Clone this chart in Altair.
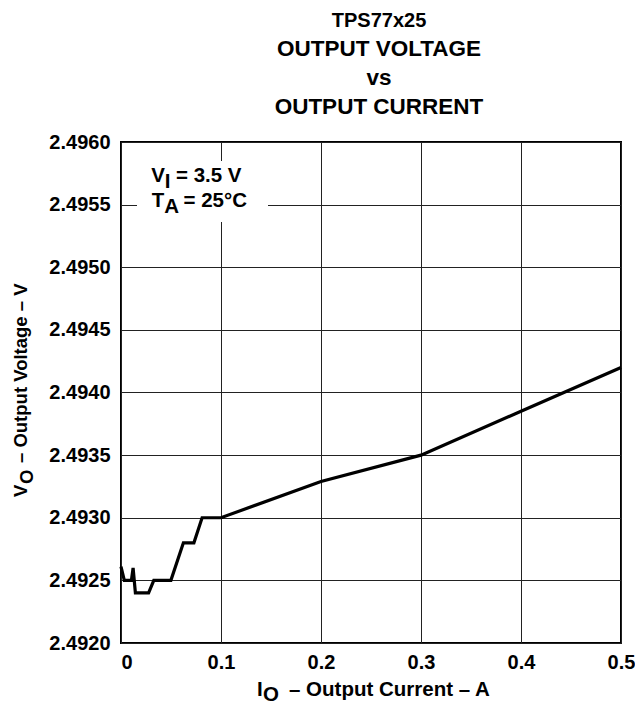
import altair as alt
import pandas as pd

# ---- data ----
current = [0.0, 0.0033, 0.0104, 0.0121, 0.0144, 0.0276, 0.0328, 0.0499,
           0.0624, 0.0729, 0.0811, 0.1, 0.2, 0.3, 0.4, 0.5]
voltage = [2.49261, 2.4925, 2.4925, 2.4926, 2.4924, 2.4924, 2.4925, 2.4925,
           2.4928, 2.4928, 2.4930, 2.4930, 2.49329, 2.4935, 2.49385, 2.4942]
x_ticks = [0, 0.1, 0.2, 0.3, 0.4, 0.5]
y_ticks = [2.4920, 2.4925, 2.4930, 2.4935, 2.4940, 2.4945, 2.4950, 2.4955, 2.4960]
title_lines = ["TPS77x25", "OUTPUT VOLTAGE", "vs", "OUTPUT CURRENT"]
cond_text = [("V", "I", "= 3.5 V"), ("T", "A", "= 25°C")]
x_title = ("I", "O", "– Output Current – A")
y_title = ("V", "O", "– Output Voltage – V")

FONT = "Liberation Sans"

df = pd.DataFrame({"I": current, "V": voltage, "order": list(range(len(current)))})

x_enc = alt.X("I:Q",
              scale=alt.Scale(domain=[0, 0.5], nice=False, zero=False),
              axis=alt.Axis(values=x_ticks, title=None, grid=True,
                            labelExpr="datum.value === 0 ? '0' : format(datum.value, '.1f')",
                            labelAlign={"condition": {"test": "datum.value === 0", "value": "left"},
                                        "value": "center"},
                            labelPadding=9))
y_enc = alt.Y("V:Q",
              scale=alt.Scale(domain=[2.492, 2.496], nice=False, zero=False),
              axis=alt.Axis(values=y_ticks, title=None, grid=True, format=".4f",
                            labelPadding=11))

line = alt.Chart(df).mark_line(color="black", strokeWidth=3.2).encode(
    x=x_enc, y=y_enc, order="order:Q")


def label(text, x, y, size, angle=0, align="left"):
    return alt.Chart(pd.DataFrame({"t": [text]})).mark_text(
        font=FONT, fontWeight="bold", fontSize=size, align=align,
        baseline="alphabetic", angle=angle, color="black"
    ).encode(text="t:N", x=alt.value(x), y=alt.value(y))


box = alt.Chart(pd.DataFrame({"b": [1]})).mark_rect(color="white").encode(
    x=alt.value(16), x2=alt.value(147), y=alt.value(19), y2=alt.value(80))

layers = [line, box]

# condition box text
layers += [
    label(cond_text[0][0], 30.2, 39.7, 20.5),
    label(cond_text[0][1], 43.8, 45.7, 20.5),
    label(cond_text[0][2], 55.0, 39.7, 20.5),
    label(cond_text[1][0], 30.8, 64.7, 20.5),
    label(cond_text[1][1], 43.3, 70.7, 20.5),
    label(cond_text[1][2], 62.5, 64.7, 20.5),
]

# chart title
layers += [
    label(title_lines[0], 258, -115.5, 20, align="center"),
    label(title_lines[1], 258, -86, 22.5, align="center"),
    label(title_lines[2], 258, -57, 22.5, align="center"),
    label(title_lines[3], 258, -28.5, 22.5, align="center"),
]

# x axis title
layers += [
    label(x_title[0], 136, 554, 20.5),
    label(x_title[1], 142, 559, 20.5),
    label(x_title[2], 168, 554, 20.5),
]

# y axis title (rotated)
layers += [
    label(y_title[0], -94, 355, 18.5, angle=270),
    label(y_title[1], -88, 342, 18.5, angle=270),
    label(y_title[2], -94, 321, 18.5, angle=270),
]

chart = alt.layer(*layers).properties(
    width=500, height=501,
    autosize=alt.AutoSizeParams(type="none"),
    padding={"left": 113, "top": 134, "right": 14, "bottom": 63},
).configure_view(
    stroke="black", strokeWidth=2
).configure_axis(
    grid=True, gridColor="#222222", gridWidth=1, gridOpacity=1,
    domain=False, ticks=False, tickSize=0,
    labelFont=FONT, labelFontWeight="bold", labelFontSize=20, labelColor="black",
)

chart.save("out.html", embed_options={"renderer": "svg", "actions": False})
